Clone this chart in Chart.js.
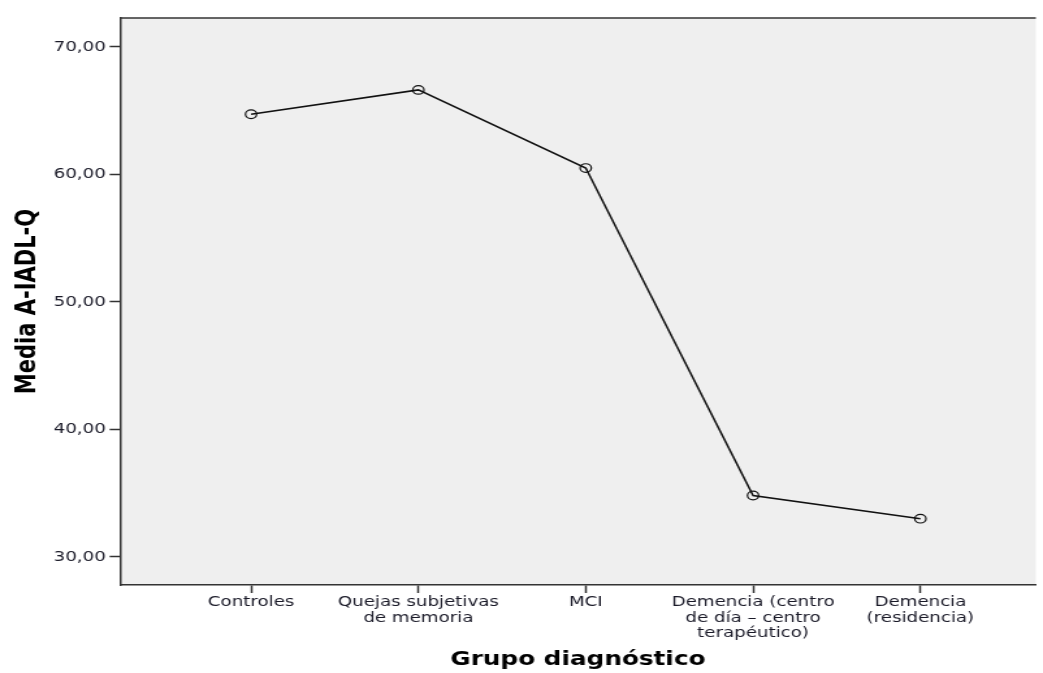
<!DOCTYPE html>
<html lang="es">
<head>
<meta charset="utf-8">
<title>Media A-IADL-Q por grupo diagnóstico</title>
<script src="https://cdn.jsdelivr.net/npm/chart.js@4/dist/chart.umd.min.js"></script>
<style>
  html, body { margin: 0; padding: 0; background: #fff; overflow: hidden; }
  /* the source picture is stretched sideways, so the canvas is too */
  #chart { display: block; transform: scaleX(1.3005); transform-origin: 0 0; }
</style>
</head>
<body>
<canvas id="chart" width="802" height="673"></canvas>
<script>
/* ─── Data ───────────────────────────────────────────────────────────────── */
const groups = [
  ['Controles'],
  ['Quejas subjetivas', 'de memoria'],
  ['MCI'],
  ['Demencia (centro', 'de día – centro', 'terapéutico)'],
  ['Demencia', '(residencia)']
];
const means  = [64.72, 66.63, 60.50, 34.82, 33.00];
const yTicks = [30, 40, 50, 60, 70];

/* ─── Helpers ────────────────────────────────────────────────────────────── */
const fmtComma = v => v.toFixed(2).replace('.', ',');
const INK   = '#1a1a28';
const FRAME = '#333';

// plot panel fill and top edge (SPSS style frame)
const panel = {
  id: 'panel',
  beforeDraw(chart) {
    const { ctx, chartArea: a } = chart;
    ctx.save();
    ctx.fillStyle = '#efefef';
    ctx.fillRect(a.left, a.top, a.right - a.left, a.bottom - a.top);
    ctx.strokeStyle = FRAME;
    ctx.lineWidth = 1.5;
    ctx.beginPath();
    ctx.moveTo(a.left, a.top);
    ctx.lineTo(a.right, a.top);
    ctx.stroke();
    ctx.restore();
  }
};

/* ─── Chart ──────────────────────────────────────────────────────────────── */
new Chart(document.getElementById('chart'), {
  type: 'line',
  data: {
    datasets: [{
      data: means.map((v, i) => ({ x: i, y: v })),
      borderColor: '#111',
      borderWidth: 1.5,
      pointRadius: 4.3,
      pointBorderWidth: 1.2,
      pointBorderColor: '#111',
      pointBackgroundColor: 'rgba(0,0,0,0)',
      tension: 0
    }]
  },
  options: {
    responsive: false,
    animation: false,
    devicePixelRatio: 1,
    layout: { padding: { top: 18, right: 0, bottom: 0, left: 0 } },
    plugins: { legend: { display: false }, tooltip: { enabled: false } },
    scales: {
      x: {
        type: 'linear',
        min: -0.783,
        max: 4.69,
        afterBuildTicks: s => { s.ticks = groups.map((_, i) => ({ value: i })); },
        afterFit: s => { s.height = 88; },
        grid: { drawOnChartArea: false, tickLength: 8, tickColor: FRAME, tickWidth: 1.5 },
        border: { color: FRAME, width: 1.5 },
        ticks: {
          autoSkip: false,
          maxRotation: 0,
          padding: 2,
          color: INK,
          font: { family: 'DejaVu Sans', size: 14, lineHeight: 1.1 },
          callback: v => groups[v]
        },
        title: {
          display: true,
          text: 'Grupo diagnóstico',
          color: '#000',
          padding: { top: 2, bottom: 2 },
          font: { family: 'DejaVu Sans', size: 19, weight: 'bold' }
        }
      },
      y: {
        min: 27.8,
        max: 72.27,
        afterBuildTicks: s => { s.ticks = yTicks.map(v => ({ value: v })); },
        afterFit: s => { s.width = 92.3; },
        grid: { drawOnChartArea: false, tickLength: 8, tickColor: FRAME, tickWidth: 1.5 },
        border: { color: FRAME, width: 1.5 },
        ticks: {
          padding: 3,
          color: INK,
          font: { family: 'DejaVu Sans', size: 14 },
          callback: v => fmtComma(v)
        },
        title: {
          display: true,
          text: 'Media A-IADL-Q',
          color: '#000',
          padding: { top: 9, bottom: 0 },
          font: { family: 'DejaVu Sans', size: 21, weight: 'bold' }
        }
      }
    }
  },
  plugins: [panel]
});
</script>
</body>
</html>
